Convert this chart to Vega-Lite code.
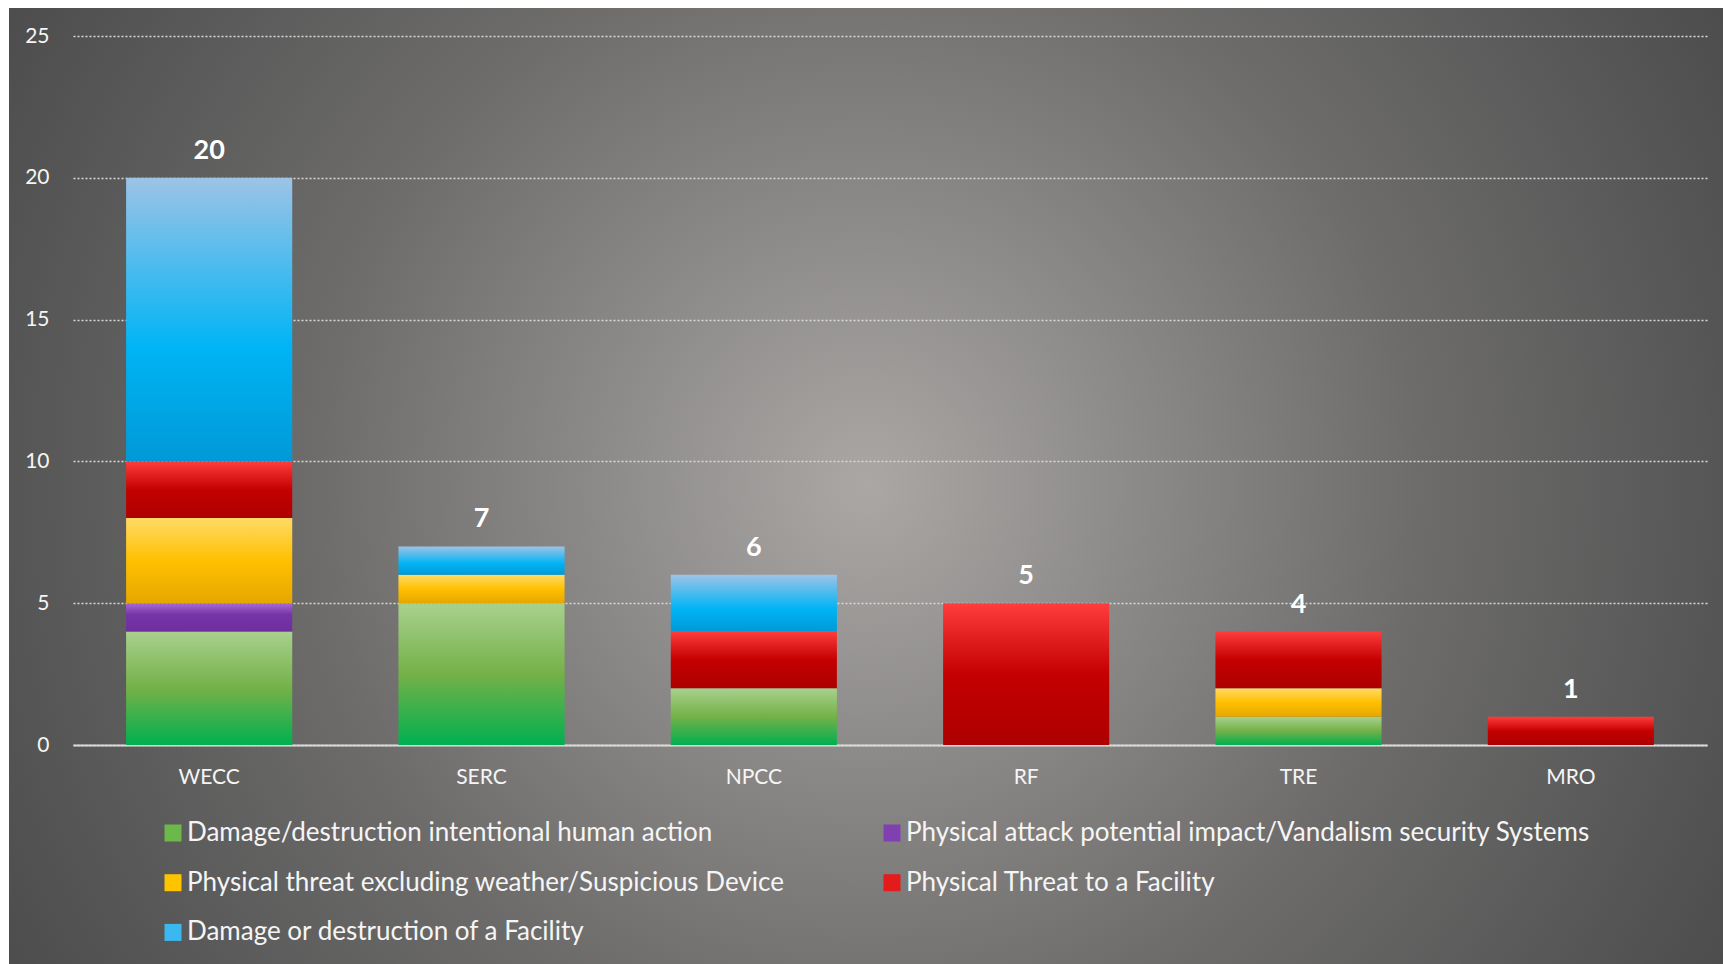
{
  "$schema": "https://vega.github.io/schema/vega-lite/v6.json",
  "width": 1714,
  "height": 956,
  "padding": {"left": 9, "top": 8, "right": 0, "bottom": 0},
  "autosize": {"type": "none"},
  "background": "#ffffff",
  "view": {
    "stroke": null,
    "fill": {
      "gradient": "radial",
      "x1": 0.5, "y1": 0.5, "r1": 0,
      "x2": 0.5, "y2": 0.5, "r2": 0.72,
      "stops": [
        {"offset": 0, "color": "#aaa7a5"},
        {"offset": 0.45, "color": "#6d6c6b"},
        {"offset": 0.7, "color": "#555555"},
        {"offset": 1, "color": "#3b3b3b"}
      ]
    }
  },
  "config": {
    "font": "Lato",
    "text": {"font": "Lato"}
  },
  "data": {
    "values": [
      {"region": "WECC", "type": "Damage/destruction intentional human action", "rank": 1, "count": 4},
      {"region": "WECC", "type": "Physical attack potential impact/Vandalism security Systems", "rank": 2, "count": 1},
      {"region": "WECC", "type": "Physical threat excluding weather/Suspicious Device", "rank": 3, "count": 3},
      {"region": "WECC", "type": "Physical Threat to a Facility", "rank": 4, "count": 2},
      {"region": "WECC", "type": "Damage or destruction of a Facility", "rank": 5, "count": 10},
      {"region": "SERC", "type": "Damage/destruction intentional human action", "rank": 1, "count": 5},
      {"region": "SERC", "type": "Physical threat excluding weather/Suspicious Device", "rank": 3, "count": 1},
      {"region": "SERC", "type": "Damage or destruction of a Facility", "rank": 5, "count": 1},
      {"region": "NPCC", "type": "Damage/destruction intentional human action", "rank": 1, "count": 2},
      {"region": "NPCC", "type": "Physical Threat to a Facility", "rank": 4, "count": 2},
      {"region": "NPCC", "type": "Damage or destruction of a Facility", "rank": 5, "count": 2},
      {"region": "RF", "type": "Physical Threat to a Facility", "rank": 4, "count": 5},
      {"region": "TRE", "type": "Damage/destruction intentional human action", "rank": 1, "count": 1},
      {"region": "TRE", "type": "Physical threat excluding weather/Suspicious Device", "rank": 3, "count": 1},
      {"region": "TRE", "type": "Physical Threat to a Facility", "rank": 4, "count": 2},
      {"region": "MRO", "type": "Physical Threat to a Facility", "rank": 4, "count": 1}
    ]
  },
  "encoding": {
    "x": {
      "field": "region",
      "type": "nominal",
      "sort": ["WECC", "SERC", "NPCC", "RF", "TRE", "MRO"],
      "scale": {"range": [64, 1698], "paddingInner": 0.39, "paddingOuter": 0.195},
      "axis": {
        "title": null,
        "orient": "bottom",
        "offset": -219,
        "labelAngle": 0,
        "labelFont": "Lato",
        "labelFontSize": 21,
        "labelColor": "#f5f5f5",
        "labelPadding": 21,
        "ticks": false,
        "tickSize": 0,
        "grid": false,
        "domain": true,
        "domainColor": "#d9d9d9",
        "domainWidth": 2
      }
    },
    "y": {
      "aggregate": "sum",
      "field": "count",
      "type": "quantitative",
      "scale": {"domain": [0, 25], "range": [737, 28], "nice": false, "zero": true},
      "axis": {
        "title": null,
        "values": [0, 5, 10, 15, 20, 25],
        "offset": -40,
        "labelFont": "Lato",
        "labelFontSize": 21,
        "labelColor": "#f5f5f5",
        "labelPadding": 0,
        "ticks": false,
        "tickSize": 0,
        "domain": false,
        "grid": true,
        "gridColor": "#d9d9d9",
        "gridDash": [2, 2],
        "gridWidth": 1.5
      }
    }
  },
  "layer": [
    {
      "mark": {"type": "bar", "strokeWidth": 0},
      "encoding": {
        "order": {"field": "rank", "type": "quantitative", "sort": "ascending"},
        "fill": {
          "field": "type",
          "type": "nominal",
          "scale": {
            "domain": [
              "Damage/destruction intentional human action",
              "Physical attack potential impact/Vandalism security Systems",
              "Physical threat excluding weather/Suspicious Device",
              "Physical Threat to a Facility",
              "Damage or destruction of a Facility"
            ],
            "range": ["#6cb84a", "#8040b0", "#ffc400", "#e41b1b", "#3bb8ef"]
          },
          "condition": [
            {
              "test": "datum.type === 'Damage/destruction intentional human action'",
              "value": {"gradient": "linear", "x1": 0, "y1": 0, "x2": 0, "y2": 1,
                "stops": [{"offset": 0, "color": "#a9d18e"}, {"offset": 0.5, "color": "#74b148"}, {"offset": 1, "color": "#00b050"}]}
            },
            {
              "test": "datum.type === 'Physical attack potential impact/Vandalism security Systems'",
              "value": {"gradient": "linear", "x1": 0, "y1": 0, "x2": 0, "y2": 1,
                "stops": [{"offset": 0, "color": "#a86bd6"}, {"offset": 0.4, "color": "#7535a6"}, {"offset": 1, "color": "#6e2e9e"}]}
            },
            {
              "test": "datum.type === 'Physical threat excluding weather/Suspicious Device'",
              "value": {"gradient": "linear", "x1": 0, "y1": 0, "x2": 0, "y2": 1,
                "stops": [{"offset": 0, "color": "#ffda66"}, {"offset": 0.5, "color": "#ffc000"}, {"offset": 1, "color": "#e6a700"}]}
            },
            {
              "test": "datum.type === 'Physical Threat to a Facility'",
              "value": {"gradient": "linear", "x1": 0, "y1": 0, "x2": 0, "y2": 1,
                "stops": [{"offset": 0, "color": "#ff3d3d"}, {"offset": 0.5, "color": "#c40000"}, {"offset": 1, "color": "#ad0000"}]}
            },
            {
              "test": "datum.type === 'Damage or destruction of a Facility'",
              "value": {"gradient": "linear", "x1": 0, "y1": 0, "x2": 0, "y2": 1,
                "stops": [{"offset": 0, "color": "#9dc3e6"}, {"offset": 0.6, "color": "#00b4f5"}, {"offset": 1, "color": "#0099d6"}]}
            }
          ],
          "legend": {
            "title": null,
            "orient": "none",
            "legendX": 151,
            "legendY": 812,
            "direction": "horizontal",
            "columns": 2,
            "columnPadding": 94,
            "rowPadding": 23.7,
            "padding": 0,
            "symbolType": "square",
            "symbolSize": 289,
            "symbolStrokeWidth": 0,
            "labelOffset": 1,
            "labelFont": "Lato",
            "labelFontSize": 26,
            "labelColor": "#f5f5f5",
            "labelLimit": 2000,
            "encode": {
              "symbols": {
                "update": {
                  "fill": [
                    {"test": "datum.value === 'Damage/destruction intentional human action'",
                      "value": {"gradient": "linear", "x1": 0, "y1": 0, "x2": 0, "y2": 1,
                        "stops": [{"offset": 0, "color": "#a9d18e"}, {"offset": 0.5, "color": "#74b148"}, {"offset": 1, "color": "#00b050"}]}},
                    {"test": "datum.value === 'Physical attack potential impact/Vandalism security Systems'",
                      "value": {"gradient": "linear", "x1": 0, "y1": 0, "x2": 0, "y2": 1,
                        "stops": [{"offset": 0, "color": "#a86bd6"}, {"offset": 0.4, "color": "#7535a6"}, {"offset": 1, "color": "#6e2e9e"}]}},
                    {"test": "datum.value === 'Physical threat excluding weather/Suspicious Device'",
                      "value": {"gradient": "linear", "x1": 0, "y1": 0, "x2": 0, "y2": 1,
                        "stops": [{"offset": 0, "color": "#ffda66"}, {"offset": 0.5, "color": "#ffc000"}, {"offset": 1, "color": "#e6a700"}]}},
                    {"test": "datum.value === 'Physical Threat to a Facility'",
                      "value": {"gradient": "linear", "x1": 0, "y1": 0, "x2": 0, "y2": 1,
                        "stops": [{"offset": 0, "color": "#ff3d3d"}, {"offset": 0.5, "color": "#c40000"}, {"offset": 1, "color": "#ad0000"}]}},
                    {"value": {"gradient": "linear", "x1": 0, "y1": 0, "x2": 0, "y2": 1,
                        "stops": [{"offset": 0, "color": "#9dc3e6"}, {"offset": 0.6, "color": "#00b4f5"}, {"offset": 1, "color": "#0099d6"}]}}
                  ]
                }
              }
            }
          }
        }
      }
    },
    {
      "mark": {
        "type": "text",
        "dy": -19,
        "baseline": "alphabetic",
        "font": "Lato",
        "fontSize": 27,
        "fontWeight": "bold",
        "fill": "#ffffff"
      },
      "encoding": {
        "text": {"aggregate": "sum", "field": "count", "type": "quantitative"}
      }
    }
  ]
}
